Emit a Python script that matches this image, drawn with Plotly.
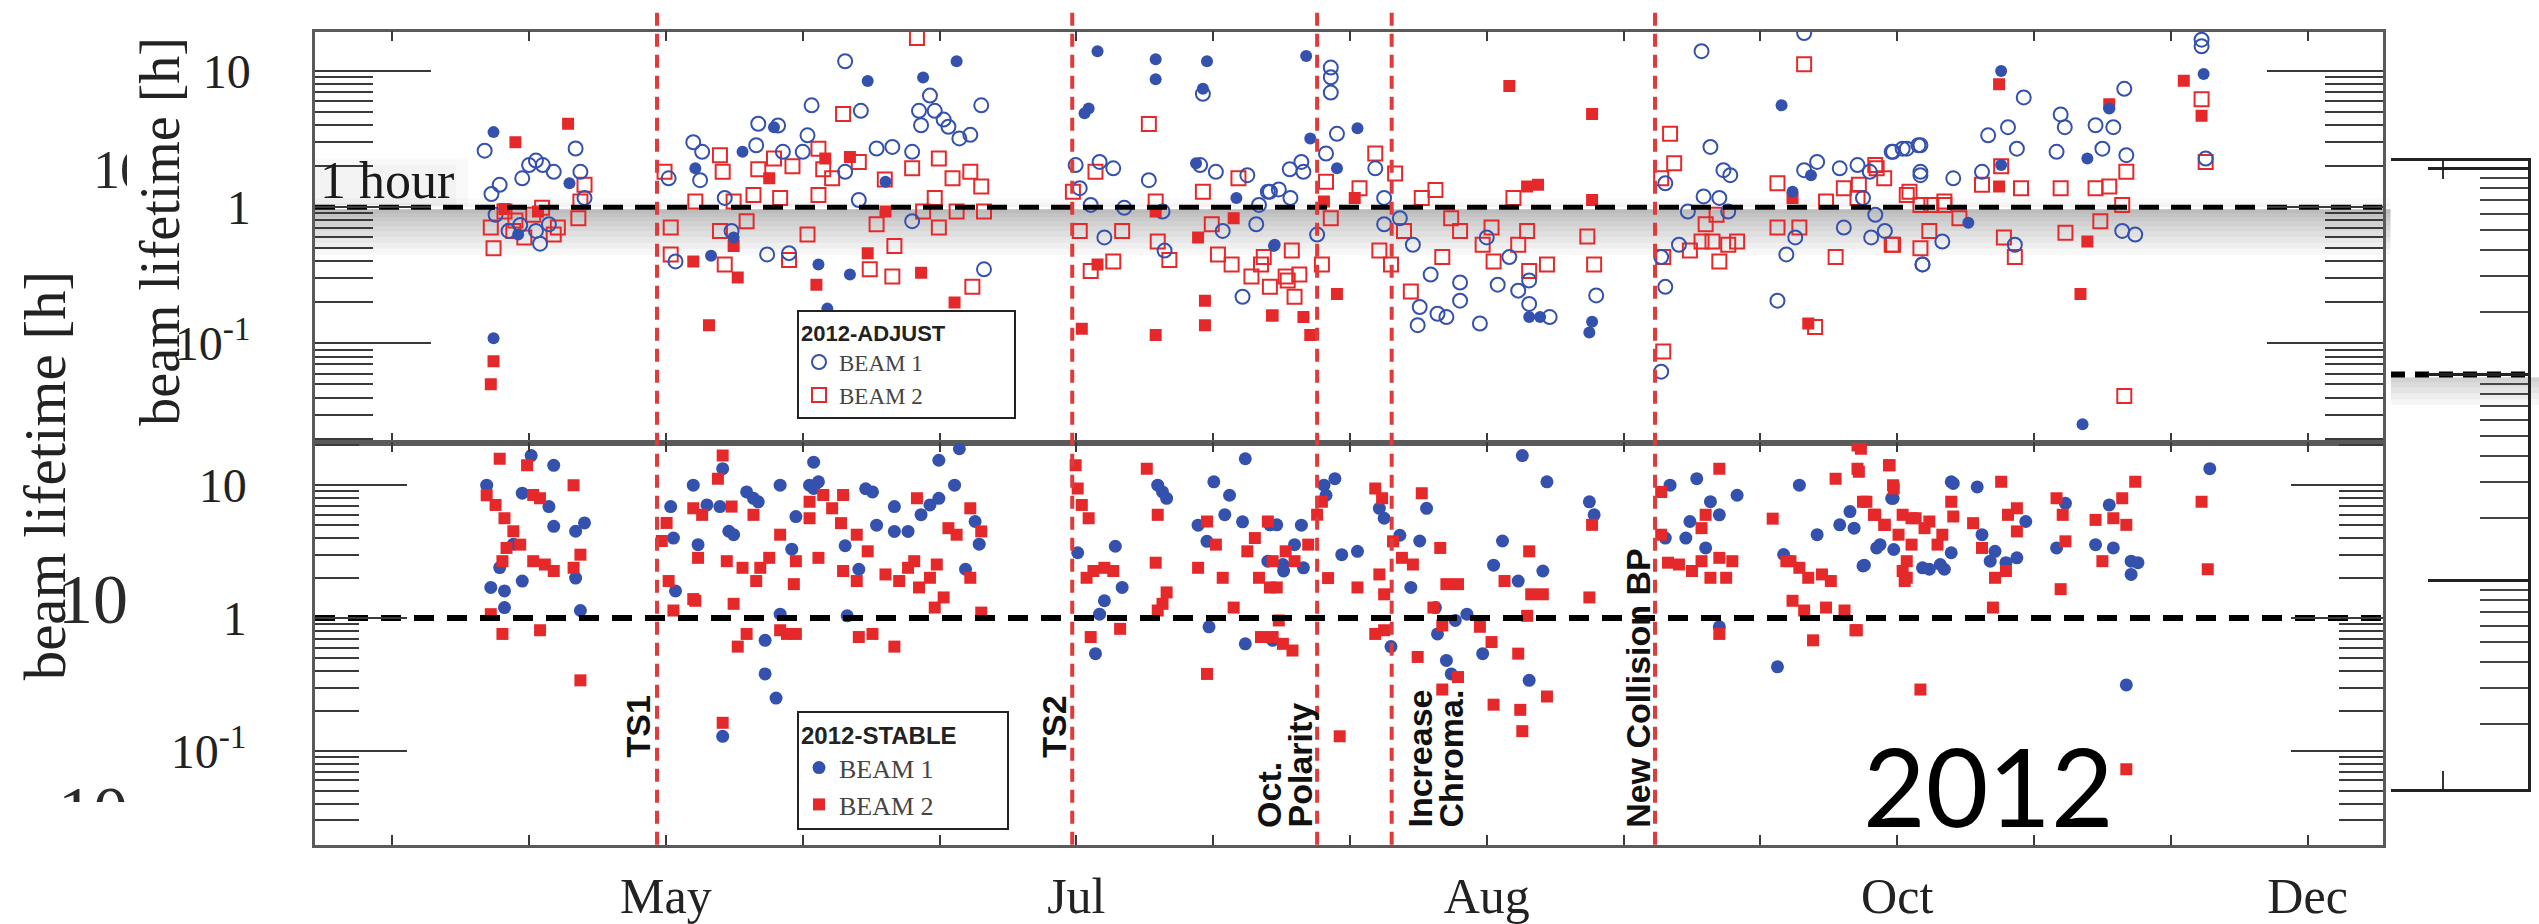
import math
import plotly.graph_objects as go

W, H = 2539, 924

# ------------------------------------------------------------------ data
# x axis: day of year 2012; small ticks every 20 days, month names every 60 days
tick_days = list(range(80, 361, 20))
month_days = [120, 180, 240, 300, 360]
month_text = ["May", "Jul", "Aug", "Oct", "Dec"]

event_days = [118.7, 179.4, 215.2, 226.1, 264.6]
event_labels = [["TS1"], ["TS2"], ["Oct.", "Polarity"], ["Increase", "Chroma."], ["New Collision BP"]]

# (day of year, beam lifetime [h])
adj_b1_open = [
    (93.5, 2.6), (94.5, 1.25), (95.7, 1.46), (99.0, 1.63), (100.0, 2.04), (101.0, 2.2), (102.0, 2.04),
    (103.6, 1.82), (106.8, 2.7), (107.5, 1.82), (108.1, 1.17), (95.1, 0.88), (97.0, 0.67), (98.7, 0.74),
    (101.0, 0.67), (101.6, 0.54), (102.9, 0.75),
    (120.4, 1.63), (124.0, 3.0), (125.3, 2.55), (125.0, 1.58), (128.6, 1.17), (129.6, 0.67), (121.4, 0.40),
    (133.2, 2.85), (133.5, 4.1), (136.4, 3.98), (137.1, 2.55), (140.7, 3.37), (141.3, 5.6), (146.2, 11.8),
    (148.5, 5.1), (148.2, 1.13), (150.8, 2.7), (153.1, 2.77), (156.0, 2.55), (156.0, 0.79), (157.0, 5.1),
    (157.3, 4.0), (158.6, 6.6), (159.3, 5.1), (160.6, 4.4), (161.3, 3.9), (162.9, 3.2), (164.5, 3.4),
    (166.1, 5.6), (166.5, 0.35), (134.8, 0.45), (138.0, 0.46), (146.2, 1.82), (140.0, 2.55),
    (179.9, 2.04), (180.5, 1.38), (183.4, 2.15), (185.4, 1.93), (182.1, 1.04), (184.1, 0.60), (187.0, 0.99),
    (190.6, 1.58), (192.6, 0.93), (192.9, 0.48), (198.5, 6.8), (198.1, 2.04), (200.4, 1.82), (205.0, 1.72),
    (208.3, 1.30), (209.6, 1.35), (211.2, 1.9), (204.3, 0.22), (201.4, 0.67), (206.3, 0.75),
    (217.2, 10.6), (217.2, 9.0), (217.2, 6.95), (218.1, 3.46), (216.5, 2.48), (212.9, 2.15), (213.2, 1.82),
    (223.7, 1.93), (225.0, 1.17), (215.2, 0.63), (211.3, 1.17), (208.0, 1.3), (206.7, 1.04), (225.0, 0.75),
    (227.3, 0.83), (229.2, 0.53), (231.8, 0.32), (230.2, 0.185), (229.9, 0.136), (232.8, 0.165),
    (234.1, 0.156), (236.1, 0.206), (236.1, 0.28), (239.0, 0.14), (241.6, 0.27), (244.6, 0.244),
    (246.2, 0.29), (246.2, 0.195), (249.2, 0.156), (256.0, 0.225), (243.3, 0.43), (240.0, 0.60),
    (266.1, 1.5), (266.1, 0.26), (265.5, 0.062), (265.5, 0.43), (268.1, 0.53), (269.4, 0.93), (272.7, 2.77),
    (274.6, 1.87), (275.6, 1.72), (271.7, 1.2), (274.0, 1.17), (275.3, 0.93), (282.5, 0.206), (283.8, 0.45),
    (285.1, 0.60), (286.4, 19.0), (271.4, 14.0), (286.4, 1.87), (288.3, 2.15), (291.6, 1.93), (294.2, 2.04),
    (299.4, 2.55), (301.4, 2.69), (303.4, 2.85), (303.4, 1.72), (296.8, 0.88), (292.2, 0.71), (296.2, 0.60),
    (303.7, 0.38),
    (318.5, 6.4), (323.9, 4.8), (324.5, 3.87), (329.0, 4.0), (331.6, 3.87), (333.2, 7.4), (323.3, 2.55),
    (330.0, 2.69), (333.5, 2.41), (313.3, 3.37), (316.2, 3.87), (317.5, 2.69), (303.1, 2.85), (300.8, 2.69),
    (299.2, 2.55), (303.4, 1.82), (308.2, 1.63), (312.4, 1.82), (306.6, 0.56), (303.7, 0.38), (332.9, 0.67),
    (334.8, 0.63), (317.2, 0.53), (344.5, 17.0), (344.5, 15.2), (345.1, 2.28), (295.0, 1.17), (298.2, 0.67),
    (296.0, 1.82),
]

adj_b2_open = [
    (94.4, 0.71), (94.8, 0.50), (96.4, 0.93), (97.7, 0.67), (99.3, 0.60), (100.6, 0.88), (101.9, 0.99),
    (103.6, 0.63), (104.2, 0.71), (107.2, 0.83), (108.1, 1.46), (107.5, 1.10), (98.0, 0.80),
    (119.8, 1.82), (120.7, 0.71), (120.7, 0.45), (124.3, 1.10), (127.9, 2.41), (128.3, 1.82), (127.9, 0.67),
    (128.6, 0.38), (129.9, 1.10), (131.8, 0.79), (132.8, 1.23), (135.8, 2.28), (136.7, 1.17), (138.0, 0.41),
    (140.7, 0.63), (142.3, 1.23), (142.3, 2.69), (144.3, 1.63), (145.9, 4.84), (148.2, 2.15), (149.8, 0.35),
    (150.8, 0.75), (153.4, 0.52), (153.1, 0.31), (156.0, 1.93), (156.7, 17.5), (157.6, 0.93), (159.3, 1.17),
    (159.9, 2.28), (159.9, 0.71), (161.9, 1.63), (162.5, 0.93), (164.5, 1.82), (166.1, 1.42), (166.5, 0.93),
    (164.8, 0.26), (133.5, 1.9), (138.5, 2.0), (143.0, 1.9), (152.0, 1.6),
    (182.8, 1.82), (179.5, 1.30), (180.5, 0.67), (182.1, 0.34), (185.4, 0.40), (186.7, 0.67), (190.6, 4.09),
    (191.6, 1.10), (191.9, 0.56), (193.6, 0.41), (198.5, 1.30), (199.8, 0.75), (200.7, 0.45), (203.7, 1.63),
    (202.7, 0.38), (205.6, 0.31), (207.0, 0.38), (208.3, 0.26), (210.9, 0.29), (211.5, 0.48),
    (223.7, 2.48), (226.6, 1.77), (221.4, 1.38), (216.5, 1.54), (217.2, 0.83), (215.9, 0.38), (211.9, 0.22),
    (212.6, 0.32), (207.4, 0.43), (210.6, 0.31), (224.3, 0.48), (226.0, 0.38), (227.9, 0.67), (228.9, 0.24),
    (230.5, 1.17), (232.5, 1.34), (234.8, 0.83), (233.5, 0.43), (236.1, 0.67), (239.4, 0.53), (241.0, 0.40),
    (240.7, 0.71), (243.9, 1.17), (244.6, 0.53), (245.9, 0.67), (246.2, 0.34), (248.8, 0.38), (254.7, 0.61),
    (255.7, 0.38), (266.8, 3.46), (267.4, 2.10), (265.5, 1.63), (265.8, 0.087), (265.8, 0.43), (269.7, 0.48),
    (271.4, 0.56), (273.0, 0.56), (274.0, 0.40), (275.3, 0.53), (276.6, 0.56), (272.0, 0.75), (273.6, 0.88),
    (286.4, 11.2), (282.5, 1.50), (282.5, 0.71), (285.7, 0.71), (288.0, 0.132), (291.0, 0.43), (289.6, 1.10),
    (292.2, 1.38), (294.2, 1.17), (296.8, 2.04), (298.1, 1.63), (299.4, 0.53), (301.4, 1.23), (303.4, 1.04),
    (304.7, 0.67), (306.9, 1.04),
    (344.5, 6.2), (345.1, 2.15), (333.2, 0.041), (333.5, 1.82), (329.0, 1.38), (331.0, 1.42), (332.9, 1.04),
    (329.7, 0.79), (323.9, 1.38), (324.6, 0.65), (317.2, 0.43), (315.6, 0.60), (318.1, 1.38), (315.2, 2.0),
    (312.4, 1.46), (306.9, 1.10), (305.0, 1.04), (303.4, 0.50), (299.2, 0.53), (301.8, 1.30), (297.0, 1.93),
    (294.4, 1.46), (309.1, 0.83),
]

adj_b1_filled = [
    (94.8, 3.56), (98.4, 0.63), (105.9, 1.5), (94.8, 0.109),
    (124.3, 1.93), (126.6, 0.44), (129.9, 0.60), (131.2, 2.55), (135.8, 3.87), (142.3, 0.38), (143.6, 0.18),
    (146.9, 0.32), (149.5, 8.45), (152.1, 1.54), (157.6, 8.95), (162.5, 11.8), (181.8, 5.3), (181.2, 4.9),
    (183.1, 14.0), (191.6, 12.2), (191.6, 8.7), (199.1, 11.8), (198.5, 7.4), (197.5, 2.1), (203.4, 1.17),
    (208.9, 0.52),
    (213.6, 12.9), (214.2, 3.2), (221.1, 3.8), (218.1, 1.93), (209.0, 0.53), (246.2, 0.156), (247.8, 0.156),
    (255.4, 0.144), (255.0, 0.12), (283.1, 5.6), (287.4, 1.72), (284.7, 1.30),
    (315.2, 10.0), (315.2, 2.04), (327.8, 2.28), (331.0, 5.3), (344.8, 9.5), (310.4, 0.77), (327.1, 0.0255),
]

adj_b2_filled = [
    (98.0, 3.0), (105.7, 4.1), (96.4, 0.97), (101.3, 0.93), (94.8, 0.074), (94.4, 0.050),
    (124.0, 0.40), (126.3, 0.136), (130.5, 0.305), (129.9, 0.52), (135.1, 1.63), (142.0, 0.27), (143.3, 2.28),
    (146.9, 2.34), (149.5, 0.46), (152.1, 0.93), (157.3, 0.33), (162.2, 0.20), (180.8, 0.128), (183.1, 0.38),
    (191.6, 0.115), (191.6, 0.93), (198.8, 0.206), (198.8, 0.136), (197.8, 0.60), (203.0, 0.83), (208.6, 0.16),
    (208.7, 0.16), (213.2, 0.156), (214.2, 0.115), (218.1, 0.23), (216.2, 1.10), (220.7, 1.17), (243.3, 7.78),
    (245.9, 1.42), (247.5, 1.46), (255.4, 4.84), (255.4, 1.13), (287.0, 0.14), (284.7, 1.17),
    (314.9, 8.0), (331.0, 5.7), (341.9, 8.5), (344.5, 4.7), (314.9, 1.42), (327.8, 0.56), (326.8, 0.23),
]

st_b1 = [
    (100.3, 16.7), (103.6, 14.1), (93.8, 10.0), (99.0, 8.7), (102.9, 6.9), (103.6, 4.9), (108.1, 5.2),
    (106.8, 4.5), (97.7, 3.6), (95.7, 2.4), (99.0, 1.9), (94.4, 1.7), (96.4, 1.6), (106.8, 2.0), (96.4, 1.2),
    (107.5, 1.14),
    (120.7, 6.9), (121.1, 4.0), (121.4, 1.6), (124.0, 10.0), (124.7, 3.57), (126.0, 7.1), (128.3, 13.3),
    (127.9, 6.9), (129.2, 4.5), (129.9, 4.24), (131.8, 8.9), (132.8, 7.96), (133.5, 7.5), (136.7, 10.0),
    (138.4, 3.3), (139.0, 5.8), (141.6, 14.9), (141.0, 10.0), (142.3, 10.6), (141.6, 9.44), (146.2, 3.5),
    (146.5, 1.04), (148.2, 2.33), (149.2, 9.4), (150.2, 8.9), (150.8, 5.0), (153.4, 6.9), (153.4, 4.49),
    (155.4, 4.49), (157.3, 6.0), (158.6, 7.1), (159.9, 7.96), (159.9, 15.4), (162.2, 10.0), (162.9, 18.8),
    (163.8, 2.33), (165.8, 3.6), (165.2, 5.33), (134.5, 0.68), (134.5, 0.38), (136.1, 0.25), (128.3, 0.129),
    (136.7, 1.07),
    (180.2, 3.1), (185.7, 3.47), (186.7, 1.7), (184.1, 1.35), (183.4, 1.07), (182.8, 0.54), (191.9, 10.0),
    (192.6, 8.9), (193.2, 7.96), (204.7, 15.8), (200.1, 10.6), (202.4, 8.4), (201.7, 6.0), (204.3, 5.3),
    (197.8, 5.0), (199.1, 3.78), (208.3, 5.03), (210.2, 2.53), (199.4, 0.86), (204.7, 0.64),
    (216.2, 10.0), (217.8, 11.2), (216.5, 8.4), (212.9, 5.0), (209.3, 5.03), (208.0, 2.68), (211.9, 3.57),
    (210.3, 2.26), (213.2, 2.39), (208.7, 0.68), (218.8, 3.0), (221.1, 3.18), (224.3, 6.7), (225.0, 5.64),
    (227.3, 4.2), (230.2, 3.8), (231.2, 6.7), (228.9, 1.7), (226.0, 0.61), (232.8, 0.76), (234.1, 0.48),
    (234.8, 0.38), (235.4, 0.96), (237.1, 1.07), (232.5, 1.20), (241.0, 2.5), (242.3, 3.8), (245.2, 16.7),
    (248.8, 10.6), (255.0, 7.5), (255.7, 5.98), (246.2, 0.34), (239.4, 0.54), (244.6, 1.90), (248.2, 2.26),
    (274.0, 0.86), (282.5, 0.43), (266.8, 10.0), (270.7, 11.2), (272.7, 7.51), (274.0, 5.98), (276.6, 8.4),
    (266.1, 4.0), (269.1, 4.0), (272.0, 3.37), (269.7, 5.33), (285.7, 10.0), (283.4, 3.01), (288.3, 4.24),
    (291.6, 5.03), (295.2, 2.5), (297.5, 3.57), (299.4, 7.96), (303.7, 2.39), (306.3, 2.53), (307.9, 10.6),
    (293.1, 6.33), (293.7, 4.75), (299.2, 7.96), (297.0, 3.37), (299.5, 3.28), (295.0, 2.47), (304.7, 2.33),
    (306.9, 2.33), (308.2, 10.3), (311.7, 9.7), (307.9, 3.1), (312.4, 4.24), (314.3, 3.18), (315.9, 2.61),
    (317.5, 2.84), (313.6, 2.68), (318.8, 5.33), (324.6, 7.3), (323.3, 3.37), (329.0, 3.57), (331.0, 7.1),
    (331.6, 3.37), (334.2, 2.68), (335.2, 2.61), (334.2, 2.13), (345.7, 13.3), (333.5, 0.314),
]

st_b2 = [
    (95.7, 15.8), (99.7, 14.1), (106.5, 10.0), (93.8, 8.4), (95.1, 7.1), (96.4, 5.64), (97.7, 4.5),
    (96.7, 3.37), (96.1, 2.68), (100.6, 8.42), (101.6, 7.96), (98.7, 3.57), (100.6, 2.68), (102.3, 2.53),
    (103.6, 2.26), (107.5, 3.0), (106.5, 2.39), (94.4, 1.07), (96.1, 0.76), (101.6, 0.81), (107.5, 0.34),
    (128.3, 16.7), (127.6, 11.2), (120.1, 5.2), (119.4, 3.8), (120.4, 1.9), (121.1, 1.14), (124.0, 6.7),
    (125.3, 5.98), (124.7, 2.84), (124.0, 1.39), (129.6, 6.9), (128.9, 2.68), (129.9, 1.28), (130.5, 0.61),
    (131.8, 0.76), (132.8, 5.98), (131.2, 2.39), (133.2, 1.9), (133.8, 2.39), (135.1, 2.84), (136.7, 4.24),
    (139.0, 2.68), (138.7, 1.80), (141.0, 5.64), (141.0, 7.5), (142.3, 2.84), (143.0, 8.42), (144.3, 6.7),
    (145.9, 8.42), (145.6, 5.18), (145.9, 2.26), (147.9, 4.24), (147.9, 1.90), (149.5, 3.18), (148.2, 0.72),
    (150.2, 0.76), (153.4, 0.61), (152.1, 2.13), (154.1, 1.90), (155.4, 2.39), (156.7, 7.96), (156.3, 2.68),
    (157.0, 1.70), (158.6, 2.01), (159.3, 1.20), (160.6, 1.43), (159.6, 2.53), (161.3, 4.75), (162.5, 4.24),
    (164.5, 6.7), (166.1, 4.49), (164.5, 2.01), (166.1, 1.10), (137.7, 0.76), (139.0, 0.76), (136.7, 0.81),
    (128.3, 0.163), (124.3, 1.35),
    (179.9, 14.1), (180.2, 9.44), (180.8, 7.1), (181.8, 5.64), (181.5, 2.01), (182.5, 2.26), (184.1, 2.39),
    (185.4, 2.26), (182.1, 0.72), (186.4, 0.83), (190.3, 13.3), (191.9, 5.98), (191.6, 2.61), (193.2, 1.56),
    (192.6, 1.28), (191.9, 1.14), (199.1, 0.38), (197.8, 2.39), (200.4, 3.57), (199.1, 5.33), (201.4, 2.01),
    (203.0, 1.20), (205.0, 3.18), (208.3, 1.70), (209.6, 0.96), (207.0, 0.72), (210.2, 0.64),
    (208.0, 5.33), (206.1, 4.0), (208.7, 2.68), (206.7, 2.01), (210.6, 3.18), (209.3, 1.70), (211.9, 2.68),
    (213.9, 3.57), (215.2, 6.0), (215.9, 7.5), (211.6, 0.57), (208.7, 0.72), (218.5, 0.129), (216.8, 2.0),
    (221.1, 1.7), (223.7, 9.44), (224.7, 7.96), (224.3, 2.13), (225.0, 1.51), (225.0, 0.81), (223.7, 0.76),
    (226.3, 3.78), (227.6, 2.84), (229.2, 2.53), (230.5, 8.7), (233.2, 3.37), (234.1, 1.80), (235.8, 1.80),
    (232.2, 1.20), (233.5, 0.88), (229.9, 0.51), (235.8, 0.36), (233.5, 0.29), (241.0, 0.223), (244.9, 0.204),
    (245.2, 0.141), (248.8, 0.257), (244.6, 0.54), (240.7, 0.66), (239.0, 0.86), (242.6, 1.9), (246.2, 3.18),
    (246.5, 1.51), (248.2, 1.51), (245.9, 1.04), (255.4, 5.03), (255.0, 1.43),
    (265.5, 8.9), (265.5, 4.24), (266.5, 2.61), (268.1, 2.53), (270.0, 2.26), (271.4, 2.68), (272.7, 2.01),
    (274.0, 2.84), (275.9, 2.68), (275.0, 2.01), (274.0, 13.3), (274.0, 0.76), (271.4, 4.75), (272.0, 5.98),
    (281.8, 5.6), (283.8, 2.68), (284.4, 2.68), (285.7, 2.39), (284.7, 1.35), (286.4, 1.14), (287.7, 0.68),
    (287.0, 2.01), (289.0, 2.13), (290.3, 1.90), (289.6, 1.20), (292.3, 1.14), (293.9, 0.81), (291.0, 11.2),
    (294.2, 19.9), (294.2, 13.3), (295.5, 7.5), (296.8, 5.98), (298.8, 14.1), (299.4, 10.0), (298.1, 5.03),
    (302.1, 5.64), (301.4, 2.68), (301.4, 2.01), (304.7, 5.33), (303.4, 0.29), (306.6, 4.24),
    (294.7, 18.8), (294.4, 12.6), (298.9, 14.1), (299.5, 9.44), (295.0, 7.51), (296.6, 5.98), (298.2, 5.03),
    (300.8, 5.98), (302.7, 5.64), (304.0, 4.75), (300.2, 4.24), (302.1, 3.57), (305.9, 3.57), (300.8, 2.26),
    (301.1, 1.90), (294.1, 0.81), (315.2, 10.6), (307.9, 7.51), (308.2, 5.81), (311.1, 5.18), (312.4, 3.37),
    (314.3, 2.01), (314.0, 1.20), (316.2, 5.98), (317.5, 6.70), (317.5, 4.49), (315.9, 2.26), (323.3, 7.96),
    (324.6, 3.78), (323.9, 1.65), (324.2, 5.98), (329.0, 5.48), (331.6, 5.64), (332.9, 7.96), (333.5, 5.03),
    (334.8, 10.6), (330.0, 2.68), (344.5, 7.51), (345.4, 2.33), (333.5, 0.073),
]

one_hour = 1.0


def cols(pairs):
    return [p[0] for p in pairs], [p[1] for p in pairs]


# ------------------------------------------------------------------ layout geometry
X_DOM = [315 / W, 2382.5 / W]
TOP_DOM = [1 - 447 / H, 1 - 32 / H]
BOT_DOM = [1 - 853 / H, 1 - 447 / H]
X_RANGE = [68.7, 370.95]
TOP_RANGE = [-1.729, 1.289]
BOT_RANGE = [-1.705, 1.320]
FRAG_DOM = [1 - 797 / H, 1 - 163 / H]
FRAG_RANGE = [-1.014, 2.034]

BLUE = "#3451ad"
RED = "#e5292b"
FRAME = "#5a5a5a"
TICK = "#3a3a3a"
SERIF = "Liberation Serif"
SANS = "Liberation Sans"
PAD = "\u2003"

minor_vals = [m * 10 ** e for e in range(-2, 3) for m in range(2, 10)]


def paper_y(val, dom, rng):
    f = (math.log10(val) - rng[0]) / (rng[1] - rng[0])
    return dom[0] + f * (dom[1] - dom[0])


fig = go.Figure()

# ---- top panel (ADJUST)
x, y = cols(adj_b2_open)
fig.add_trace(go.Scatter(x=x, y=y, mode="markers", name="BEAM 2", legend="legend", legendrank=2,
                         marker=dict(symbol="square-open", size=14, color=RED, line=dict(width=2)),
                         xaxis="x", yaxis="y"))
x, y = cols(adj_b1_open)
fig.add_trace(go.Scatter(x=x, y=y, mode="markers", name="BEAM 1", legend="legend", legendrank=1,
                         marker=dict(symbol="circle-open", size=14, color=BLUE, line=dict(width=2)),
                         xaxis="x", yaxis="y"))
x, y = cols(adj_b2_filled)
fig.add_trace(go.Scatter(x=x, y=y, mode="markers", showlegend=False,
                         marker=dict(symbol="square", size=12, color=RED), xaxis="x", yaxis="y"))
x, y = cols(adj_b1_filled)
fig.add_trace(go.Scatter(x=x, y=y, mode="markers", showlegend=False,
                         marker=dict(symbol="circle", size=12, color=BLUE), xaxis="x", yaxis="y"))
fig.add_trace(go.Scatter(x=X_RANGE, y=[one_hour, one_hour], mode="lines", showlegend=False,
                         line=dict(color="black", width=5, dash="20px,12px"), xaxis="x", yaxis="y"))

# ---- bottom panel (STABLE)
x, y = cols(st_b1)
fig.add_trace(go.Scatter(x=x, y=y, mode="markers", name="BEAM 1", legend="legend2", legendrank=1,
                         marker=dict(symbol="circle", size=13, color=BLUE), xaxis="x2", yaxis="y2"))
x, y = cols(st_b2)
fig.add_trace(go.Scatter(x=x, y=y, mode="markers", name="BEAM 2", legend="legend2", legendrank=2,
                         marker=dict(symbol="square", size=12, color=RED), xaxis="x2", yaxis="y2"))
fig.add_trace(go.Scatter(x=X_RANGE, y=[one_hour, one_hour], mode="lines", showlegend=False,
                         line=dict(color="black", width=6, dash="20px,13px"), xaxis="x2", yaxis="y2"))

# ---- clipped label fragments at the left edge (pieces of an underlying slide)
fig.add_trace(go.Scatter(x=[93, 58, 58], y=[176, 611, 826], text=["10", "10", "10"], mode="text",
                         textposition="middle right", cliponaxis=True, showlegend=False, hoverinfo="skip",
                         textfont=dict(family=SERIF, size=[54, 70, 70], color="#2a2a2a"),
                         xaxis="x4", yaxis="y4"))

# ---- fragment of a neighbouring chart at the right edge
fig.add_trace(go.Scatter(x=[0, 1], y=[10, 10], mode="lines", showlegend=False,
                         line=dict(color="black", width=6, dash="14px,10px"), xaxis="x5", yaxis="y5"))

axis_common = dict(showgrid=False, zeroline=False, showline=True, linecolor=FRAME, linewidth=2.5)

xaxis_common = dict(axis_common, domain=X_DOM, range=X_RANGE, mirror="ticks", ticks="inside",
                    ticklen=10, tickwidth=2, tickcolor=TICK, tickmode="array", tickvals=month_days,
                    ticktext=month_text,
                    minor=dict(ticks="inside", tickmode="array", tickvals=tick_days, ticklen=10,
                               tickwidth=2, tickcolor=TICK, showgrid=False))

ytick_text = ["10<sup>-1</sup>", "1", "10"]

fig.update_layout(
    width=W, height=H, margin=dict(l=0, r=0, t=0, b=0),
    paper_bgcolor="white", plot_bgcolor="rgba(0,0,0,0)", hovermode=False,
    xaxis=dict(xaxis_common, anchor="y", showticklabels=False),
    xaxis6=dict(domain=X_DOM, range=X_RANGE, overlaying="x", side="top", anchor="y", showgrid=False,
                zeroline=False, showline=False, ticks="outside", ticklen=16, tickwidth=2, tickcolor=TICK,
                tickmode="array", tickvals=tick_days, showticklabels=False),
    yaxis=dict(axis_common, domain=TOP_DOM, type="log", range=TOP_RANGE, anchor="x", mirror="ticks",
               ticks="inside", ticklen=116, tickwidth=2, tickcolor=TICK, tickmode="array",
               tickvals=[0.1, 1, 10], ticktext=ytick_text, ticklabelstandoff=52,
               tickfont=dict(family=SERIF, size=48, color="#222"),
               minor=dict(ticks="inside", tickmode="array", tickvals=minor_vals, ticklen=58,
                          tickwidth=1.6, tickcolor=TICK, showgrid=False)),
    xaxis2=dict(xaxis_common, anchor="y2", showticklabels=True,
                tickfont=dict(family=SERIF, size=50, color="#222"), ticklabelstandoff=6),
    yaxis2=dict(axis_common, domain=BOT_DOM, type="log", range=BOT_RANGE, anchor="x2", mirror="ticks",
                ticks="inside", ticklen=92, tickwidth=2, tickcolor=TICK, tickmode="array",
                tickvals=[0.1, 1, 10], ticktext=ytick_text, ticklabelstandoff=56,
                tickfont=dict(family=SERIF, size=48, color="#222"),
                minor=dict(ticks="inside", tickmode="array", tickvals=minor_vals, ticklen=44,
                           tickwidth=1.6, tickcolor=TICK, showgrid=False)),
    xaxis4=dict(domain=[0, 127 / W], range=[0, 127], visible=False, anchor="y4"),
    yaxis4=dict(domain=[1 - 810 / H, 1 - 130 / H], range=[810, 130], visible=False, anchor="x4"),
    xaxis5=dict(domain=[2391 / W, 2528 / W], range=[0, 1], anchor="y5", showgrid=False, zeroline=False,
                showline=True, mirror="ticks", linecolor="#222", linewidth=2.5, ticks="inside",
                tickmode="array", tickvals=[0.38], ticklen=18, tickwidth=2, tickcolor="#333",
                showticklabels=False),
    yaxis5=dict(domain=FRAG_DOM, type="log", range=FRAG_RANGE, anchor="x5",
                side="right", showgrid=False, zeroline=False, showline=True, mirror=False,
                linecolor="#222", linewidth=2.5, ticks="inside", tickmode="array", tickvals=[1, 10, 100],
                ticklen=100, tickwidth=2.5, tickcolor="#222", showticklabels=False,
                minor=dict(ticks="inside", tickmode="array", tickvals=minor_vals, ticklen=48,
                           tickwidth=1.8, tickcolor="#444", showgrid=False)),
    legend=dict(x=797 / W, y=1 - 313 / H, xanchor="left", yanchor="top", bgcolor="white",
                bordercolor="#222", borderwidth=2, itemwidth=30,
                font=dict(family=SERIF, size=23, color="#444"),
                title=dict(text="<b>2012-ADJUST</b>" + PAD * 3,
                           font=dict(family=SANS, size=22, color="#222"))),
    legend2=dict(x=797 / W, y=1 - 718 / H, xanchor="left", yanchor="top", bgcolor="white",
                 bordercolor="#222", borderwidth=2, itemwidth=30,
                 font=dict(family=SERIF, size=26, color="#444"),
                 title=dict(text="<b>2012-STABLE</b>" + PAD * 2,
                            font=dict(family=SANS, size=24, color="#222"))),
)

# ---- decorations: shadow band under the "1 hour" line, event lines
shapes = []
line_top = paper_y(one_hour, TOP_DOM, TOP_RANGE)
for h in [4, 8, 12, 17, 22, 28, 34, 40, 46]:
    shapes.append(dict(type="rect", xref="paper", yref="paper", x0=X_DOM[0], x1=X_DOM[1] + 8 / W,
                       y0=line_top - (2 + h) / H, y1=line_top - 2 / H, line=dict(width=0),
                       fillcolor="rgba(0,0,0,0.03)", layer="below"))
for h in [4, 9]:
    shapes.append(dict(type="rect", xref="paper", yref="paper", x0=X_DOM[0], x1=X_DOM[1] + 8 / W,
                       y0=line_top, y1=line_top + h / H, line=dict(width=0),
                       fillcolor="rgba(0,0,0,0.025)", layer="below"))
# soft shadow behind "1 hour"
for dx, dy in [(0, 0), (12, 6)]:
    shapes.append(dict(type="rect", xref="paper", yref="paper", x0=X_DOM[0], x1=(468 - dx) / W,
                       y0=line_top + 2 / H, y1=1 - (160 + dy) / H, line=dict(width=0),
                       fillcolor="rgba(0,0,0,0.025)", layer="below"))
# shadow band of the right-hand fragment
line_frag = paper_y(10, FRAG_DOM, FRAG_RANGE)
for h in [5, 10, 16, 22, 28]:
    shapes.append(dict(type="rect", xref="paper", yref="paper", x0=2391 / W, x1=1,
                       y0=line_frag - (3 + h) / H, y1=line_frag - 3 / H, line=dict(width=0),
                       fillcolor="rgba(0,0,0,0.035)", layer="below"))
for d in event_days:
    shapes.append(dict(type="line", xref="x2", yref="paper", x0=d, x1=d, y0=1 - 853 / H, y1=1 - 13 / H,
                       line=dict(color="#e03a3a", width=4, dash="13px,8px"), layer="above"))
fig.update_layout(shapes=shapes)

# ---- annotations
ann = []
ann.append(dict(text="1 hour", xref="paper", yref="paper", x=318 / W, y=1 - 182 / H, xanchor="left",
                yanchor="middle", showarrow=False, font=dict(family=SERIF, size=52, color="#1a1a1a")))
ann.append(dict(text="beam lifetime [h]", xref="paper", yref="paper", x=160 / W, y=1 - 234 / H,
                xanchor="center", yanchor="middle", textangle=-90, showarrow=False,
                font=dict(family=SERIF, size=56, color="#222")))
ann.append(dict(text="beam lifetime [h]", xref="paper", yref="paper", x=45 / W, y=1 - 480 / H,
                xanchor="center", yanchor="middle", textangle=-90, showarrow=False,
                font=dict(family=SERIF, size=59, color="#222")))

label_offsets = [[-19], [-19], [-48, -17], [28, 59], [-17]]
label_bottoms = [767, 767, 838, 838, 838]
for d, lines, offs, bot in zip(event_days, event_labels, label_offsets, label_bottoms):
    for txt, off in zip(lines, offs):
        ann.append(dict(text="<b>%s</b>" % txt, xref="x2", yref="paper", x=d, y=1 - bot / H,
                        xshift=off, xanchor="center", yanchor="bottom", textangle=-90, showarrow=False,
                        font=dict(family=SANS, size=34, color="#111")))

ann.append(dict(text="2012", xref="paper", yref="paper", x=1988 / W, y=1 - 793 / H, showarrow=False,
                xanchor="center", yanchor="middle",
                font=dict(family="Lato", size=108, color="black")))
fig.update_layout(annotations=ann)

fig.write_html("out.html")
